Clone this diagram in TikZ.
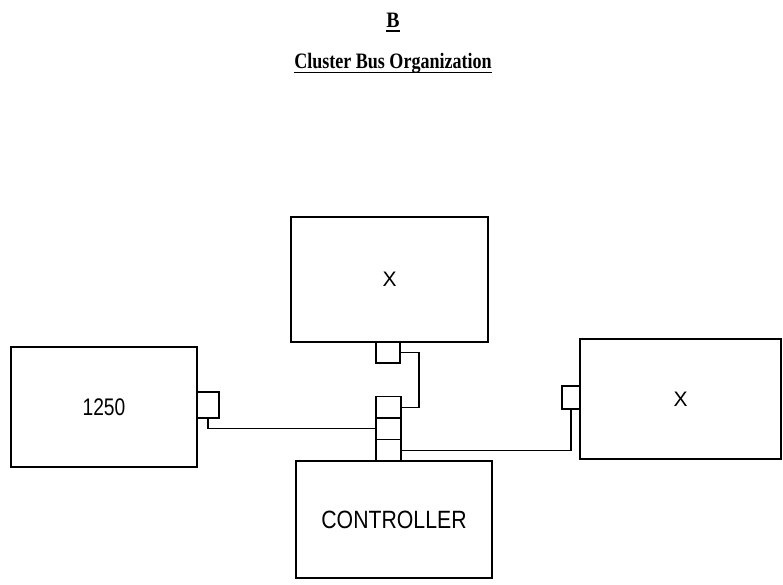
\documentclass[tikz,border=0pt]{standalone}
\usepackage{fontspec}
\setmainfont{Liberation Serif}
\newfontfamily\labelfont{Liberation Sans}
\usepackage{graphicx}
\usetikzlibrary{positioning}
\newcommand{\narrowtext}[2][0.85]{\scalebox{#1}[1]{#2}}

\begin{document}
\begin{tikzpicture}[x=1pt, y=-1pt, line width=1.3pt,
		heading/.style={inner sep=0pt, font=\bfseries\fontsize{22}{22}\selectfont},
		unit/.style={draw, rectangle, inner sep=0pt, outer sep=0pt},
		portbox/.style={draw, rectangle, inner sep=0pt, outer sep=0pt},
		bus/.style={line width=1.4pt}]
		
		\useasboundingbox (0,0) rectangle (783,584);
		
		% 1. Tiêu đề (gạch chân vẽ riêng cho dày hơn)
		\node[heading] (letter) at (393,20) {\narrowtext[0.9]{B}};
		\node[heading] (title) at (393,63) {\narrowtext[0.82]{Cluster Bus Organization}};
		\draw[line width=1.5pt] ([yshift=-4pt]letter.base west) -- ([yshift=-4pt]letter.base east);
		\draw[line width=1.5pt] ([yshift=-4.5pt]title.base west) -- ([yshift=-4.5pt]title.base east);
		
		% 2. Các khối chính
		\node[unit, minimum width=197, minimum height=125, font=\labelfont\fontsize{21}{21}\selectfont] (topx) at (389.5,279.5) {X};
		\node[unit, minimum width=186, minimum height=120, font=\labelfont\fontsize{24}{24}\selectfont] (cpu) at (104,407) {\narrowtext[0.8]{1250}};
		\node[unit, minimum width=201, minimum height=120, font=\labelfont\fontsize{21}{21}\selectfont] (rightx) at (680.5,399) {X};
		\node[unit, minimum width=196, minimum height=117, font=\labelfont\fontsize{25}{25}\selectfont] (ctrl) at (394,519.5) {\narrowtext{CONTROLLER}};
		
		% 3. Cổng nối của từng khối
		\node[portbox, minimum width=24, minimum height=21, below=0pt of topx.south, xshift=-1.5pt] (tport) {};
		\node[portbox, minimum width=22, minimum height=26, right=0pt of cpu.east, yshift=2pt] (lport) {};
		\node[portbox, minimum width=18, minimum height=23, left=0pt of rightx.west, yshift=1.5pt] (rport) {};
		
		% 4. Ba cổng xếp chồng trên bộ điều khiển
		\node[portbox, minimum width=25, minimum height=21.5, above=0pt of ctrl.north, xshift=-5.5pt] (s3) {};
		\node[portbox, minimum width=25, minimum height=21.5, above=0pt of s3] (s2) {};
		\node[portbox, minimum width=25, minimum height=21.5, above=0pt of s2] (s1) {};
		
		% 5. Dây bus
		\draw[bus] (tport.east) -- ++(19,0) |- (s1.east);
		\draw[bus] (lport.south) |- (s2.west);
		\draw[bus] (rport.south) |- (s3.east);
		
	\end{tikzpicture}
\end{document}
